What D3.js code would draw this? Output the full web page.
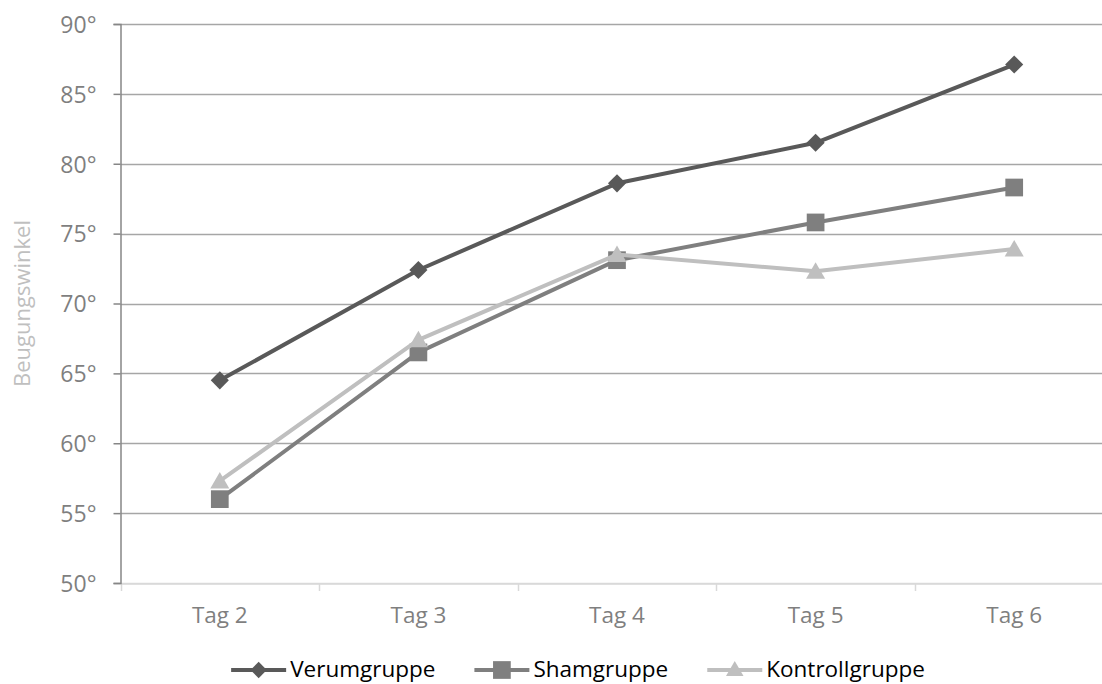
<!DOCTYPE html>
<html><head><meta charset="utf-8">
<script src="https://cdn.jsdelivr.net/npm/d3@7"></script>
<style>
html,body{margin:0;padding:0;background:#fff;}
svg{display:block;font-family:"Open Sans",sans-serif;}
</style></head>
<body><svg id="c" width="1102" height="684"></svg>
<script>
const categories = ["Tag 2","Tag 3","Tag 4","Tag 5","Tag 6"];
const seriesNames = ["Verumgruppe","Shamgruppe","Kontrollgruppe"];
const verum = [64.5, 72.4, 78.6, 81.5, 87.1];
const sham = [56.0, 66.5, 73.1, 75.8, 78.3];
const kontroll = [57.3, 67.4, 73.5, 72.3, 73.9];
const yTicks = [50,55,60,65,70,75,80,85,90];
const yTitle = "Beugungswinkel";

(function(){
const colors = ["#595959","#7f7f7f","#bfbfbf"];
const symbols = [d3.symbolDiamond2, d3.symbolSquare2, d3.symbolTriangle2];
const allSeries = [verum, sham, kontroll];

const svg = d3.select("#c");
const W = 1102;
const pl = 120.5, pt = 24, pb = 583;
const band = 198.6;
const x = d3.scaleBand().domain(categories).range([pl, pl + band*categories.length]).paddingInner(0).paddingOuter(0);
const y = d3.scaleLinear().domain([50,90]).range([pb, pt]);
const cx = c => x(c) + x.bandwidth()/2;

// gridlines
svg.append("g").selectAll("line").data(yTicks.filter(t=>t>50)).join("line")
  .attr("x1", pl).attr("x2", W).attr("y1", d=>Math.round(y(d))+0.5).attr("y2", d=>Math.round(y(d))+0.5)
  .attr("stroke","#a6a6a6").attr("stroke-width",1.5);

// x axis
const xAxis = d3.axisBottom(x).tickSize(0).tickSizeOuter(0).tickFormat("");
const gx = svg.append("g").attr("transform",`translate(0,${pb+0.5})`).call(xAxis);
gx.select(".domain").attr("stroke","#d9d9d9").attr("stroke-width",1.5);
gx.selectAll(".tick").remove();
const bounds = d3.range(categories.length+1).map(i => pl + i*band);
svg.append("g").selectAll("line").data(bounds).join("line")
  .attr("x1", d=>Math.round(d)+0.5).attr("x2", d=>Math.round(d)+0.5)
  .attr("y1", pb).attr("y2", pb+8).attr("stroke","#d9d9d9").attr("stroke-width",1.5);
svg.append("line").attr("x1",pl).attr("x2",W).attr("y1",pb+0.5).attr("y2",pb+0.5)
  .attr("stroke","#d9d9d9").attr("stroke-width",1.5);
svg.append("g").selectAll("text").data(categories).join("text")
  .attr("x", d=>cx(d)).attr("y", 623).attr("text-anchor","middle")
  .attr("fill","#7f7f7f").attr("font-size",22.5).text(d=>d);

// y axis
const yAxis = d3.axisLeft(y).tickValues(yTicks).tickSize(7).tickFormat(d=>d+"°");
const gy = svg.append("g").attr("transform",`translate(${pl},0)`).call(yAxis);
gy.select(".domain").attr("stroke","#868686").attr("stroke-width",1.5);
gy.selectAll(".tick line").attr("stroke","#868686").attr("stroke-width",1.5);
gy.selectAll(".tick text").attr("fill","#7f7f7f").attr("font-size",23)
  .attr("font-family","'Open Sans',sans-serif").attr("x",-24).attr("dy","0.36em");

// y title
svg.append("text").attr("transform",`translate(30,${y(70)}) rotate(-90)`)
  .attr("text-anchor","middle").attr("fill","#bfbfbf").attr("font-size",22).text(yTitle);

// series
const line = d3.line().x((d,i)=>cx(categories[i])).y(d=>y(d));
allSeries.forEach((vals,s)=>{
  const g = svg.append("g");
  g.append("path").datum(vals).attr("d",line).attr("fill","none")
    .attr("stroke",colors[s]).attr("stroke-width",4).attr("stroke-linejoin","round");
  const sym = d3.symbol().type(symbols[s]).size(s===0?210:(s===1?400:260));
  g.selectAll("path.m").data(vals).join("path").attr("class","m")
    .attr("transform",(d,i)=>`translate(${cx(categories[i])},${y(d) + (s===2?2:0)})`)
    .attr("d",sym()).attr("fill",colors[s]);
});

// legend
const leg = svg.append("g");
const items = leg.selectAll("g").data(seriesNames).join("g");
items.append("text").attr("x",59).attr("y",677).attr("font-size",22.5).attr("fill","#000").text(d=>d);
const widths = [];
items.each(function(){ widths.push(d3.select(this).select("text").node().getComputedTextLength()); });
const gap = 39;
const total = d3.sum(widths.map(w=>59+w)) + gap*(seriesNames.length-1);
let xs = 578 - total/2;
items.each(function(d,i){
  const g = d3.select(this).attr("transform",`translate(${xs},0)`);
  g.append("line").attr("x1",0).attr("x2",55).attr("y1",670).attr("y2",670)
    .attr("stroke",colors[i]).attr("stroke-width",4);
  const sym = d3.symbol().type(symbols[i]).size(i===0?170:(i===1?400:220));
  g.append("path").attr("transform",`translate(27.5,${670+(i===2?1:0)})`).attr("d",sym()).attr("fill",colors[i]);
  xs += 59 + widths[i] + gap;
});
})();
</script></body></html>
